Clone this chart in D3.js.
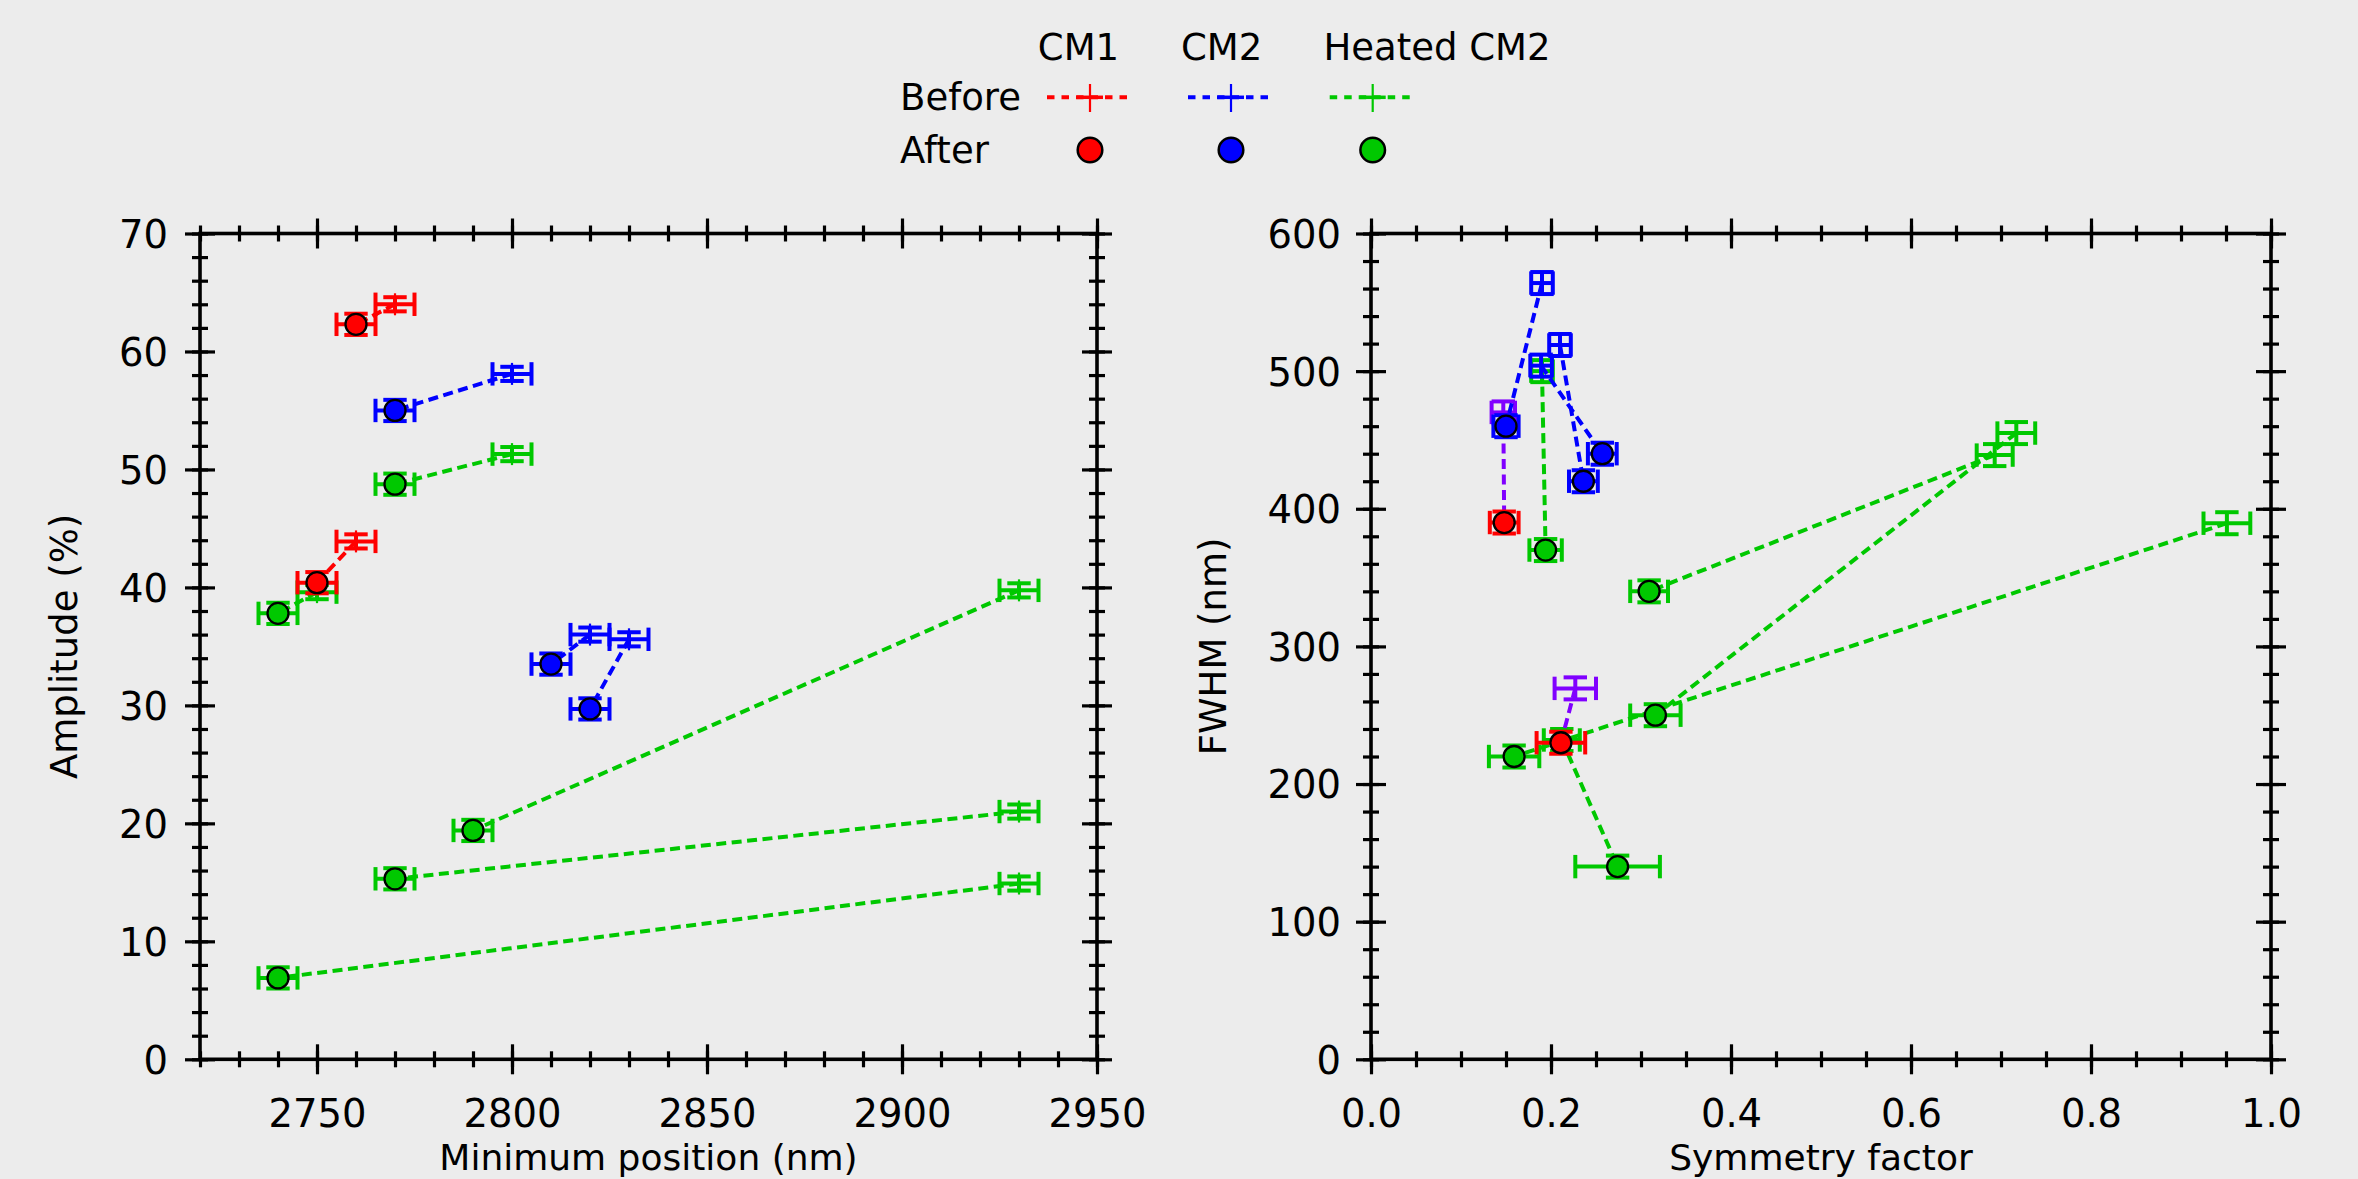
<!DOCTYPE html>
<html><head><meta charset="utf-8">
<script src="https://cdn.jsdelivr.net/npm/d3@7"></script>
<style>
html,body{margin:0;padding:0;background:#ececec;}
svg{display:block;}
text{font-family:"DejaVu Sans",sans-serif;fill:#000;}
</style>
</head><body>
<script>
// ---------------- DATA ----------------
// Left panel: Minimum position (nm) vs Amplitude (%). Pairs matched by index.
const leftCM1Before    = [{x:2770,y:64.0,xe:5,ye:0.6},{x:2760,y:43.9,xe:5,ye:0.6}];
const leftCM1After     = [{x:2760,y:62.3,xe:5,ye:0.9},{x:2750,y:40.4,xe:5,ye:0.9}];
const leftCM2Before    = [{x:2800,y:58.1,xe:5,ye:0.6},{x:2820,y:36.0,xe:5,ye:0.6},{x:2830,y:35.6,xe:5,ye:0.6}];
const leftCM2After     = [{x:2770,y:55.0,xe:5,ye:0.9},{x:2810,y:33.5,xe:5,ye:0.9},{x:2820,y:29.7,xe:5,ye:0.9}];
const leftHeatedBefore = [{x:2800,y:51.3,xe:5,ye:0.6},{x:2750,y:39.6,xe:5,ye:0.6},{x:2930,y:39.75,xe:5,ye:0.6},{x:2930,y:21.0,xe:5,ye:0.6},{x:2930,y:14.9,xe:5,ye:0.6}];
const leftHeatedAfter  = [{x:2770,y:48.75,xe:5,ye:0.9},{x:2740,y:37.8,xe:5,ye:0.9},{x:2790,y:19.4,xe:5,ye:0.9},{x:2770,y:15.3,xe:5,ye:0.9},{x:2740,y:6.9,xe:5,ye:0.9}];

// Right panel: Symmetry factor vs FWHM (nm). Pairs matched by index.
const rightCM1Before    = [{x:0.147,y:470,xe:0.013,ye:8},{x:0.227,y:269.5,xe:0.023,ye:8}];
const rightCM1After     = [{x:0.148,y:390,xe:0.016,ye:8},{x:0.211,y:230,xe:0.027,ye:8}];
const rightCM2Before    = [{x:0.190,y:564,xe:0.012,ye:8},{x:0.210,y:519,xe:0.012,ye:8},{x:0.189,y:504,xe:0.012,ye:8}];
const rightCM2After     = [{x:0.150,y:460,xe:0.014,ye:8},{x:0.236,y:420,xe:0.016,ye:8},{x:0.257,y:440,xe:0.016,ye:8}];
const rightHeatedBefore = [{x:0.190,y:500,xe:0.012,ye:8},{x:0.693,y:439,xe:0.020,ye:8},{x:0.717,y:455,xe:0.021,ye:8},{x:0.951,y:389.5,xe:0.026,ye:8},{x:0.212,y:232,xe:0.020,ye:8}];
const rightHeatedAfter  = [{x:0.194,y:370,xe:0.018,ye:8},{x:0.309,y:340,xe:0.021,ye:8},{x:0.316,y:250,xe:0.028,ye:8},{x:0.159,y:220,xe:0.028,ye:8},{x:0.274,y:140,xe:0.047,ye:8}];

// Ticks
const leftXMajor  = [2750,2800,2850,2900,2950];
const leftXMinor  = d3.range(2720,2951,10);
const leftYMajor  = [0,10,20,30,40,50,60,70];
const leftYMinor  = d3.range(0,71,2);
const rightXMajor = [0,0.2,0.4,0.6,0.8,1.0];
const rightXMinor = d3.range(0,1.0001,0.05);
const rightYMajor = [0,100,200,300,400,500,600];
const rightYMinor = d3.range(0,601,20);

// Labels
const legendColumns = ["CM1","CM2","Heated CM2"];
const legendRows    = ["Before","After"];
const axisTitles    = {leftX:"Minimum position (nm)", leftY:"Amplitude (%)", rightX:"Symmetry factor", rightY:"FWHM (nm)"};

// ---------------- STYLE ----------------
const RED="#ff0000", BLUE="#0000ff", GREEN="#00c800", PURPLE="#8000ff";
const W=2358, H=1179;
const TOP=233.5, BOT=1059.3;
const CAP=11.7, PLUS=11, R=10.5, LW=4, DASH="10,5.5";
const TICK_FS=38.5, TITLE_FS=36, LEGEND_FS=37;

const svg = d3.select("body").append("svg").attr("width",W).attr("height",H);
svg.append("rect").attr("width",W).attr("height",H).attr("fill","#ececec");

const lx = d3.scaleLinear().domain([2720,2950]).range([200,1097]);
const ly = d3.scaleLinear().domain([0,70]).range([BOT,TOP]);
const rx = d3.scaleLinear().domain([0,1]).range([1371,2271]);
const ry = d3.scaleLinear().domain([0,600]).range([BOT,TOP]);

function drawFrame(x, y, xMaj, xMin, yMaj, yMin, xFmt, labelRight) {
  const g = svg.append("g");
  const [x0,x1] = x.range(), [y0,y1] = [y.range()[1], y.range()[0]];
  const styleAxis = (sel, size, horiz) => {
    sel.select(".domain").remove();
    sel.selectAll(".tick line").attr("stroke","#000").attr("stroke-width",3.2);
    if (horiz) sel.selectAll(".tick line").attr("y1",-size).attr("y2",size);
    else sel.selectAll(".tick line").attr("x1",-size).attr("x2",size);
  };
  [["b",y1],["t",y0]].forEach(([s,pos]) => {
    const a = (s==="b"?d3.axisBottom(x):d3.axisTop(x)).tickValues(xMin).tickFormat("").tickSize(8);
    g.append("g").attr("transform",`translate(0,${pos})`).call(a).call(sel=>styleAxis(sel,8,true));
  });
  [["l",x0],["r",x1]].forEach(([s,pos]) => {
    const a = (s==="l"?d3.axisLeft(y):d3.axisRight(y)).tickValues(yMin).tickFormat("").tickSize(8);
    g.append("g").attr("transform",`translate(${pos},0)`).call(a).call(sel=>styleAxis(sel,8,false));
  });
  const bx = g.append("g").attr("transform",`translate(0,${y1})`)
    .call(d3.axisBottom(x).tickValues(xMaj).tickFormat(xFmt).tickSize(15).tickPadding(25.5))
    .call(sel=>styleAxis(sel,15,true));
  bx.selectAll(".tick text").attr("font-size",TICK_FS).attr("font-family","DejaVu Sans").attr("fill","#000");
  g.append("g").attr("transform",`translate(0,${y0})`)
    .call(d3.axisTop(x).tickValues(xMaj).tickFormat("").tickSize(15)).call(sel=>styleAxis(sel,15,true));
  const ly_ = g.append("g").attr("transform",`translate(${x0},0)`)
    .call(d3.axisLeft(y).tickValues(yMaj).tickSize(15).tickPadding(x0 - labelRight - 15))
    .call(sel=>styleAxis(sel,15,false));
  ly_.selectAll(".tick text").attr("font-size",TICK_FS).attr("font-family","DejaVu Sans").attr("fill","#000").attr("dy","0.36em");
  g.append("g").attr("transform",`translate(${x1},0)`)
    .call(d3.axisRight(y).tickValues(yMaj).tickFormat("").tickSize(15)).call(sel=>styleAxis(sel,15,false));
  g.append("rect").attr("x",x0).attr("y",y0).attr("width",x1-x0).attr("height",y1-y0)
    .attr("fill","none").attr("stroke","#000").attr("stroke-width",3.6);
}

function errMarker(g, x, y, d, col) {
  const cx=x(d.x), cy=y(d.y), xl=x(d.x-d.xe), xr=x(d.x+d.xe), yt=y(d.y+d.ye), yb=y(d.y-d.ye);
  const segs = [
    [xl,cy,xr,cy],[xl,cy-CAP,xl,cy+CAP],[xr,cy-CAP,xr,cy+CAP],
    [cx,yt,cx,yb],[cx-CAP,yt,cx+CAP,yt],[cx-CAP,yb,cx+CAP,yb]
  ];
  g.selectAll(null).data(segs).join("line")
    .attr("x1",s=>s[0]).attr("y1",s=>s[1]).attr("x2",s=>s[2]).attr("y2",s=>s[3])
    .attr("stroke",col).attr("stroke-width",LW);
}

function drawSeries(x, y, before, after, lineCol, beforeCol, afterCol) {
  const g = svg.append("g");
  g.selectAll(null).data(d3.zip(before, after)).join("line")
    .attr("x1",p=>x(p[0].x)).attr("y1",p=>y(p[0].y))
    .attr("x2",p=>x(p[1].x)).attr("y2",p=>y(p[1].y))
    .attr("stroke",lineCol).attr("stroke-width",LW).attr("stroke-dasharray",DASH);
  before.forEach(d => {
    errMarker(g, x, y, d, beforeCol);
    g.append("line").attr("x1",x(d.x)-PLUS).attr("x2",x(d.x)+PLUS).attr("y1",y(d.y)).attr("y2",y(d.y)).attr("stroke",beforeCol).attr("stroke-width",2.2);
    g.append("line").attr("x1",x(d.x)).attr("x2",x(d.x)).attr("y1",y(d.y)-PLUS).attr("y2",y(d.y)+PLUS).attr("stroke",beforeCol).attr("stroke-width",2.2);
  });
  after.forEach(d => {
    errMarker(g, x, y, d, afterCol);
    g.append("circle").attr("cx",x(d.x)).attr("cy",y(d.y)).attr("r",R)
      .attr("fill",afterCol).attr("stroke","#000").attr("stroke-width",2.3);
  });
}

drawFrame(lx, ly, leftXMajor, leftXMinor, leftYMajor, leftYMinor, d3.format("d"), 168);
drawFrame(rx, ry, rightXMajor, rightXMinor, rightYMajor, rightYMinor, d3.format(".1f"), 1341);

drawSeries(lx, ly, leftHeatedBefore, leftHeatedAfter, GREEN, GREEN, GREEN);
drawSeries(lx, ly, leftCM1Before, leftCM1After, RED, RED, RED);
drawSeries(lx, ly, leftCM2Before, leftCM2After, BLUE, BLUE, BLUE);
drawSeries(rx, ry, rightHeatedBefore, rightHeatedAfter, GREEN, GREEN, GREEN);
drawSeries(rx, ry, rightCM1Before, rightCM1After, PURPLE, PURPLE, RED);
drawSeries(rx, ry, rightCM2Before, rightCM2After, BLUE, BLUE, BLUE);

svg.append("text").attr("x",(200+1097)/2).attr("y",1170).attr("text-anchor","middle").attr("font-size",TITLE_FS).text(axisTitles.leftX);
svg.append("text").attr("x",(1371+2271)/2).attr("y",1170).attr("text-anchor","middle").attr("font-size",TITLE_FS).text(axisTitles.rightX);
svg.append("text").attr("transform",`translate(77,${(TOP+BOT)/2}) rotate(-90)`).attr("text-anchor","middle").attr("font-size",TITLE_FS+1).text(axisTitles.leftY);
svg.append("text").attr("transform",`translate(1226,${(TOP+BOT)/2}) rotate(-90)`).attr("text-anchor","middle").attr("font-size",TITLE_FS+1).text(axisTitles.rightY);

// Legend
const legendCols = [RED, BLUE, GREEN];
const colTextX = [1078.5, 1221.7, 1437];
const sampleX = [1090, 1231, 1372.7];
const lg = svg.append("g");
legendColumns.forEach((t,i)=>lg.append("text").attr("x",colTextX[i]).attr("y",60).attr("text-anchor","middle").attr("font-size",LEGEND_FS).text(t));
lg.append("text").attr("x",900).attr("y",110).attr("font-size",LEGEND_FS).text(legendRows[0]);
lg.append("text").attr("x",900).attr("y",163).attr("font-size",LEGEND_FS).text(legendRows[1]);
legendCols.forEach((c,i)=>{
  const cx = sampleX[i];
  lg.append("line").attr("x1",cx-43).attr("x2",cx+43).attr("y1",97.3).attr("y2",97.3)
    .attr("stroke",c).attr("stroke-width",4).attr("stroke-dasharray","7.5,7");
  lg.append("line").attr("x1",cx-13).attr("x2",cx+13).attr("y1",97.3).attr("y2",97.3).attr("stroke",c).attr("stroke-width",3.5);
  lg.append("line").attr("x1",cx).attr("x2",cx).attr("y1",84).attr("y2",112).attr("stroke",c).attr("stroke-width",2.2);
  lg.append("circle").attr("cx",cx).attr("cy",150).attr("r",12.3).attr("fill",c).attr("stroke","#000").attr("stroke-width",2.5);
});
</script>
</body></html>
